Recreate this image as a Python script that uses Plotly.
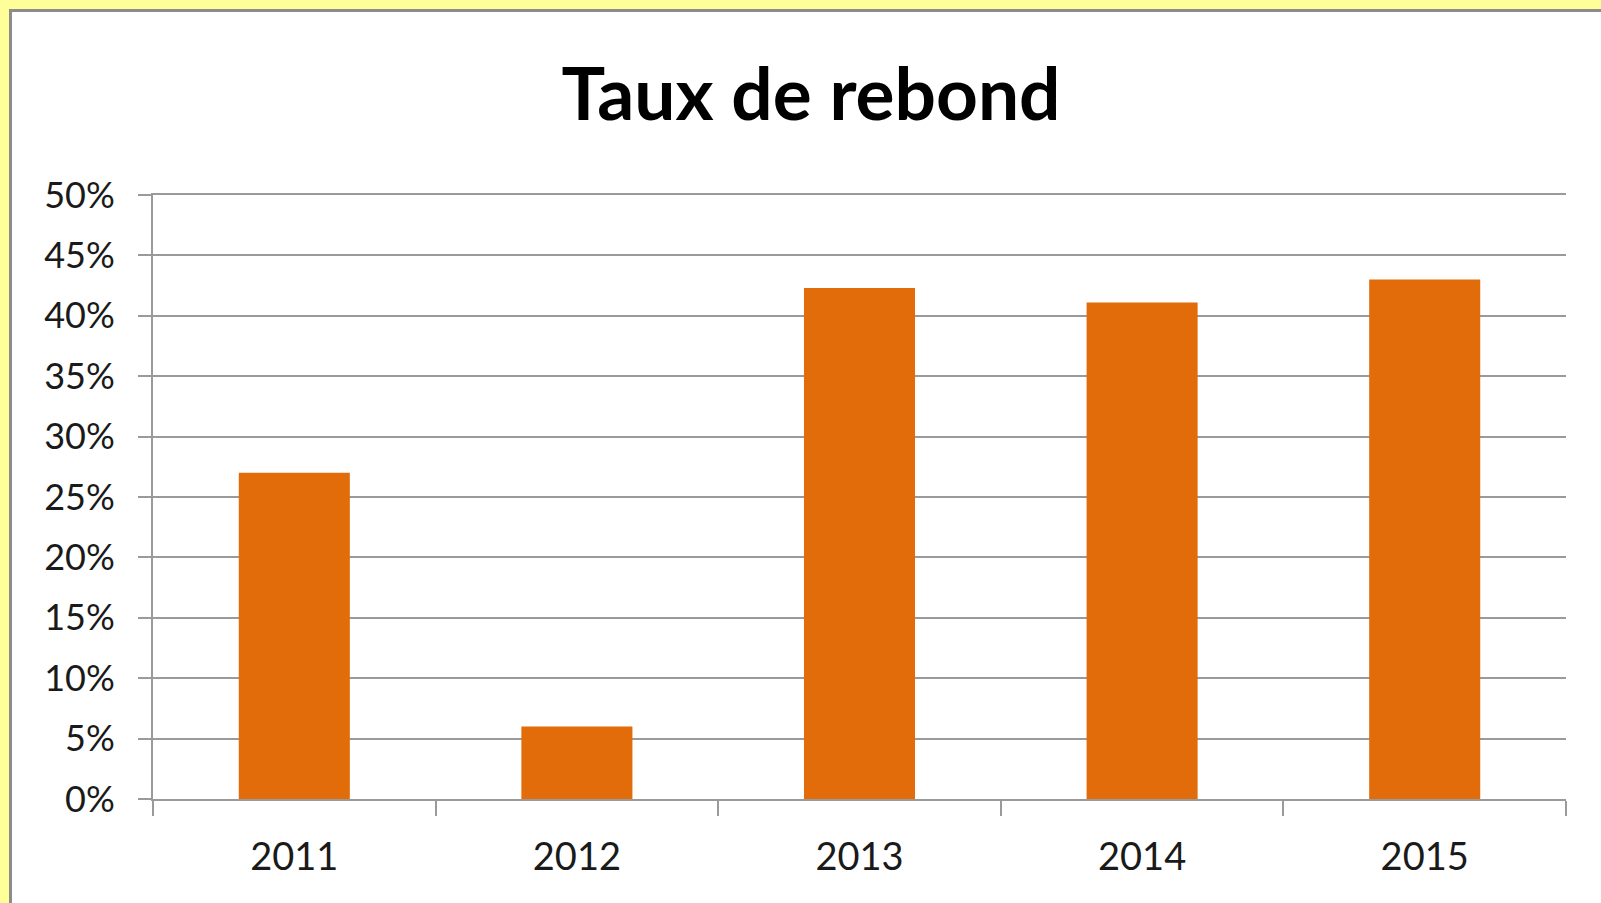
import plotly.graph_objects as go

years = ["2011", "2012", "2013", "2014", "2015"]
bounce_rate = [27.0, 6.0, 42.3, 41.1, 43.0]
title_text = "Taux de rebond"

W, H = 1601, 903
L, R, T, B = 153, 35, 195, 104
pw, ph = W - L - R, H - T - B

def px_x(p):
    return (p - L) / pw

def px_y(p):
    return (H - B - p) / ph

fig = go.Figure(go.Bar(
    x=years, y=bounce_rate,
    marker=dict(color="#E36C0A", line=dict(width=0)),
    hoverinfo="skip",
))

fig.update_layout(
    width=W, height=H,
    margin=dict(l=L, r=R, t=T, b=B, pad=0),
    paper_bgcolor="#FFFF99",
    plot_bgcolor="rgba(0,0,0,0)",
    bargap=0.607,
    showlegend=False,
    font=dict(family="Lato", color="#1a1a1a"),
    title=dict(
        text="<b>" + title_text + "</b>",
        x=811 / W, xanchor="center", xref="container",
        y=1 - 94 / H, yanchor="middle", yref="container",
        font=dict(family="Lato", size=73, color="#000000"),
    ),
    shapes=[dict(
        type="rect", xref="paper", yref="paper", layer="below",
        x0=px_x(10.5), x1=px_x(1640), y0=px_y(940), y1=px_y(10.5),
        fillcolor="#FFFFFF", line=dict(color="#8C8C8C", width=3),
    )],
)

fig.update_yaxes(
    range=[0, 50], dtick=5, ticksuffix="%",
    showgrid=True, gridcolor="#9A9A9A", gridwidth=2,
    showline=True, linecolor="#9A9A9A", linewidth=2,
    ticks="outside", ticklen=13, tickwidth=2, tickcolor="#9A9A9A",
    tickfont=dict(size=36, family="Lato", color="#1a1a1a"),
    ticklabelstandoff=16,
    zeroline=False, fixedrange=True,
)
fig.update_xaxes(
    showline=True, linecolor="#9A9A9A", linewidth=2, mirror=True,
    ticks="outside", ticklen=15, tickwidth=2, tickcolor="#9A9A9A",
    tickson="boundaries",
    tickfont=dict(size=38, family="Lato", color="#1a1a1a"),
    ticklabelstandoff=23,
    showgrid=False, fixedrange=True,
)

fig.write_html(
    "out.html",
    config={"displayModeBar": False},
    post_script="document.body.style.margin='0';document.body.style.background='#FFFF99';",
)
